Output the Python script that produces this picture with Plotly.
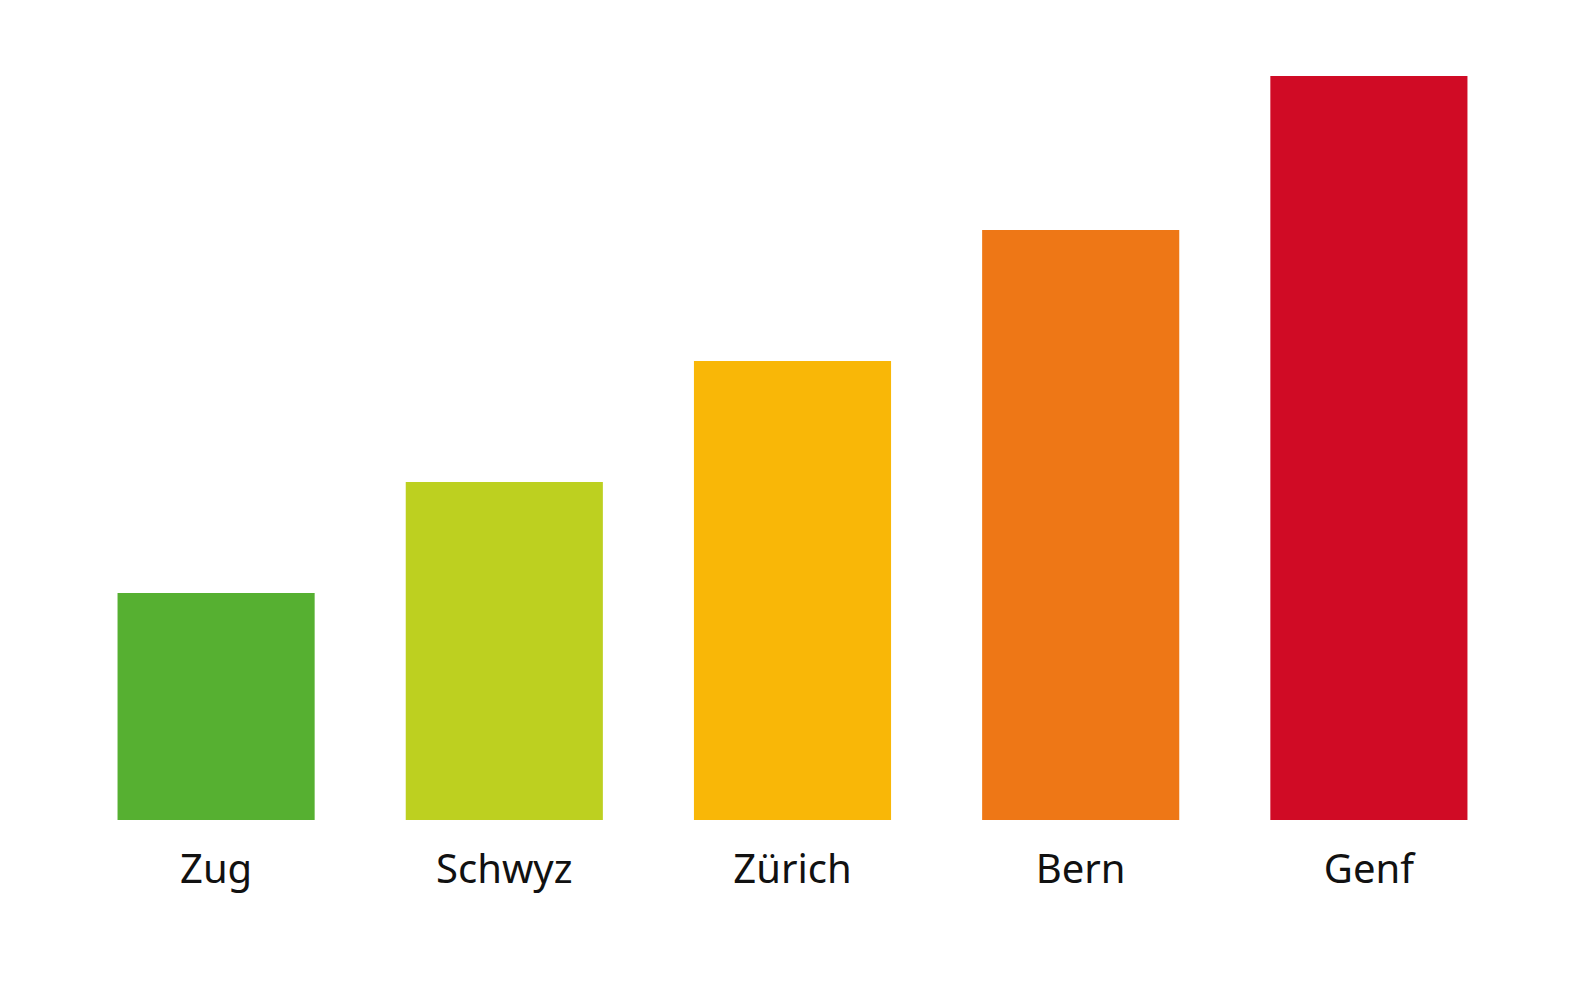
import plotly.graph_objects as go

# Cantons and relative bar heights
cantons = ["Zug", "Schwyz", "Zürich", "Bern", "Genf"]
values = [227, 338, 459, 590, 744]
colors = ["#56B031", "#BDD020", "#F9B707", "#EE7716", "#D00B25"]

fig = go.Figure(go.Bar(x=cantons, y=values, marker_color=colors,
                       marker_line_width=0, width=0.684))
fig.update_layout(
    width=1586, height=992,
    paper_bgcolor="white", plot_bgcolor="white",
    margin=dict(l=64, r=81, t=68, b=180),
    showlegend=False,
    font=dict(family="Noto Sans", color="#111111"),
)
fig.update_xaxes(showline=False, showgrid=False, ticks="",
                 tickfont=dict(size=40), ticklabelstandoff=22)
fig.update_yaxes(visible=False, range=[0, 744])
fig.write_html("out.html")
